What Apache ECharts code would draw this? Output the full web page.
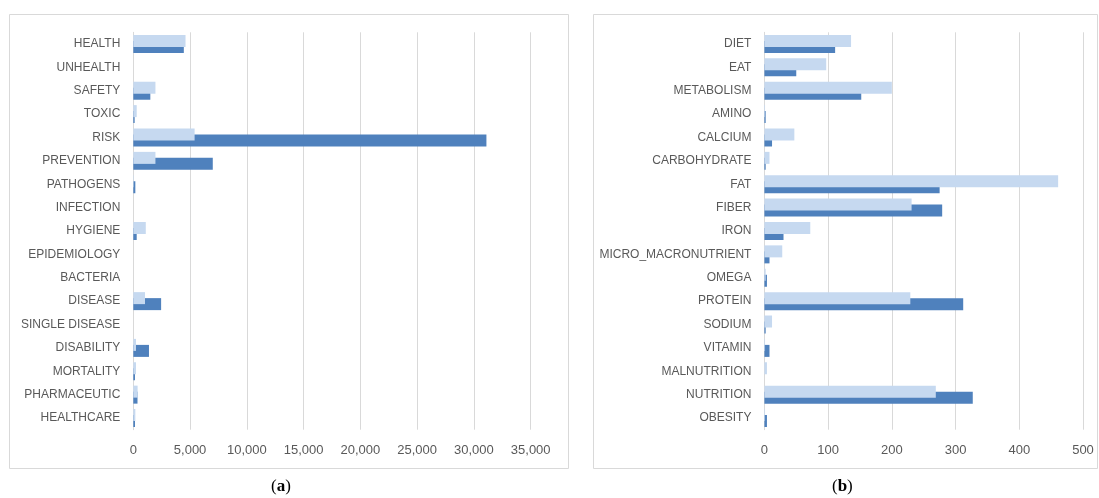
<!DOCTYPE html>
<html>
<head>
<meta charset="utf-8">
<script src="https://cdn.jsdelivr.net/npm/echarts@6/dist/echarts.min.js"></script>
<style>
  html, body { margin: 0; padding: 0; background: #ffffff; }
  #chart { width: 1099px; height: 498px; }
</style>
</head>
<body>
<div id="chart"></div>
<script>
// Panel (a): health-related terms, listed top to bottom
const healthTerms = ['HEALTH', 'UNHEALTH', 'SAFETY', 'TOXIC', 'RISK', 'PREVENTION', 'PATHOGENS',
  'INFECTION', 'HYGIENE', 'EPIDEMIOLOGY', 'BACTERIA', 'DISEASE', 'SINGLE DISEASE', 'DISABILITY',
  'MORTALITY', 'PHARMACEUTIC', 'HEALTHCARE'];
const healthFirst = [4600, 0, 1950, 300, 5400, 1950, 40, 0, 1100, 0, 0, 1030, 0, 240, 240, 380, 180];
const healthSecond = [4450, 0, 1500, 120, 31100, 7000, 180, 0, 300, 0, 0, 2450, 0, 1380, 150, 370, 150];
const healthTicks = [0, 5000, 10000, 15000, 20000, 25000, 30000, 35000];

// Panel (b): nutrition-related terms, listed top to bottom
const nutritionTerms = ['DIET', 'EAT', 'METABOLISM', 'AMINO', 'CALCIUM', 'CARBOHYDRATE', 'FAT', 'FIBER',
  'IRON', 'MICRO_MACRONUTRIENT', 'OMEGA', 'PROTEIN', 'SODIUM', 'VITAMIN', 'MALNUTRITION', 'NUTRITION', 'OBESITY'];
const nutritionFirst = [136, 97, 200, 1, 47, 8, 461, 231, 72, 28, 2, 229, 12, 1, 4, 269, 1];
const nutritionSecond = [111, 50, 152, 2, 12, 2, 275, 279, 30, 8, 4, 312, 2, 8, 0, 327, 4];
const nutritionTicks = [0, 100, 200, 300, 400, 500];

const LIGHT = '#c6d9f0';
const DARK = '#4f81bd';
const TEXT = '#595959';
const GRIDLINE = '#d9d9d9';
const FONT = '"Liberation Sans", Arial, sans-serif';

function valueAxis(gridIndex, ticks) {
  const step = ticks[1] - ticks[0];
  return {
    type: 'value', gridIndex,
    min: ticks[0], max: ticks[ticks.length - 1], interval: step,
    axisLine: { show: false }, axisTick: { show: false },
    splitLine: { lineStyle: { color: GRIDLINE, width: 1 } },
    axisLabel: {
      color: TEXT, fontFamily: FONT, fontSize: 13, margin: 14,
      formatter: v => v.toLocaleString('en-US')
    }
  };
}

function categoryAxis(gridIndex, terms) {
  return {
    type: 'category', gridIndex, inverse: true, data: terms,
    axisLine: { show: true, lineStyle: { color: GRIDLINE, width: 1 } },
    axisTick: { show: false },
    axisLabel: { color: TEXT, fontFamily: FONT, fontSize: 12, margin: 13 }
  };
}

// The light bar sits above the dark one in each row and is painted over it
function barSeries(name, idx, values, color, z) {
  return {
    name, type: 'bar', xAxisIndex: idx, yAxisIndex: idx, data: values,
    barWidth: 12, barGap: '-50%', z,
    itemStyle: { color },
    emphasis: { disabled: true },
    animation: false
  };
}

function caption(letter, cx) {
  return {
    type: 'text', left: cx - 15, top: 478,
    style: {
      text: '{p|(}{b|' + letter + '}{p|)}',
      rich: {
        p: { fontFamily: '"Liberation Serif", "DejaVu Serif", serif', fontSize: 17, fill: '#000' },
        b: { fontFamily: '"Liberation Serif", "DejaVu Serif", serif', fontSize: 17, fontWeight: 'bold', fill: '#000' }
      }
    }
  };
}

const chart = echarts.init(document.getElementById('chart'), null, { renderer: 'canvas' });
chart.setOption({
  backgroundColor: '#ffffff',
  animation: false,
  grid: [
    { left: 133.3, right: 1099 - 530.7, top: 32.3, height: 397.4 },
    { left: 764.4, right: 1099 - 1083, top: 32.3, height: 397.4 }
  ],
  xAxis: [valueAxis(0, healthTicks), valueAxis(1, nutritionTicks)],
  yAxis: [categoryAxis(0, healthTerms), categoryAxis(1, nutritionTerms)],
  series: [
    barSeries('first', 0, healthFirst, LIGHT, 3),
    barSeries('second', 0, healthSecond, DARK, 2),
    barSeries('first', 1, nutritionFirst, LIGHT, 3),
    barSeries('second', 1, nutritionSecond, DARK, 2)
  ],
  graphic: [
    { type: 'rect', shape: { x: 9.5, y: 14.5, width: 559, height: 454 },
      style: { fill: 'none', stroke: GRIDLINE, lineWidth: 1 }, silent: true },
    { type: 'rect', shape: { x: 593.5, y: 14.5, width: 504, height: 454 },
      style: { fill: 'none', stroke: GRIDLINE, lineWidth: 1 }, silent: true },
    caption('a', 286),
    caption('b', 847)
  ]
});
</script>
</body>
</html>
